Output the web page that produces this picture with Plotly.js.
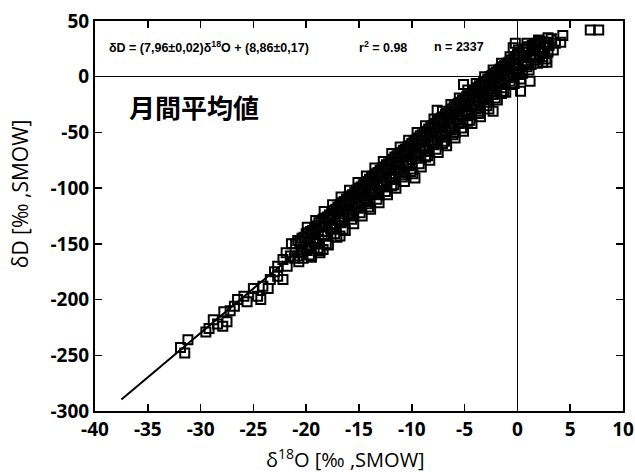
<!DOCTYPE html>
<html>
<head>
<meta charset="utf-8">
<script src="https://cdn.plot.ly/plotly-3.0.1.min.js"></script>
<style>
html,body{margin:0;padding:0;background:#fff;}
#chart{width:635px;height:472px;}
</style>
</head>
<body>
<div id="chart"></div>
<script>
// δ18O / δD monthly mean values
const tailPts = [[-31.9,-243],[-31.2,-236],[-31.5,-248],[-29.5,-229],[-29.2,-226],[-28.4,-222],[-27.9,-224],[-27.5,-220],[-27.8,-211],[-27.2,-210],[-26.5,-200],[-25.9,-197],[-25.6,-202],[-24.6,-197],[-24.3,-200],[-24.1,-188],[-23.4,-182],[-22.7,-179],[-22.2,-182],[-22.7,-170],[-22.2,-164],[-21.5,-161],[-21.8,-170],[-23.0,-175],[-25.0,-190],[-26.8,-206],[-28.8,-218],[-21.4,-150],[-21.9,-158],[-23.6,-190]];

const bandPtsA = [[-21.0,-150],[-21.1,-163],[-20.6,-148],[-20.5,-158],[-20.7,-166],[-20.2,-144],[-20.3,-155],[-19.8,-140],[-19.9,-151],[-19.7,-160],[-19.4,-138],[-19.3,-148],[-19.0,-134],[-19.1,-145],[-18.9,-154],[-18.6,-131],[-18.5,-142],[-18.2,-127],[-18.3,-139],[-18.1,-150],[-17.8,-124],[-17.7,-136],[-17.4,-120],[-17.5,-132],[-17.3,-141],[-17.0,-117],[-16.9,-129],[-16.6,-113],[-16.7,-126],[-16.5,-137],[-16.2,-110],[-16.1,-123],[-15.8,-107],[-15.9,-119],[-15.7,-128],[-15.4,-104],[-15.3,-116],[-15.0,-100],[-15.1,-113],[-14.9,-122],[-14.6,-97],[-14.5,-110],[-14.2,-94],[-14.3,-107],[-14.1,-117],[-13.8,-90],[-13.7,-103],[-13.4,-87],[-13.5,-100],[-13.3,-110],[-13.0,-84],[-12.9,-97],[-12.6,-81],[-12.7,-94],[-12.5,-103],[-12.2,-78],[-12.1,-91],[-11.8,-74],[-11.9,-87],[-11.7,-97],[-11.4,-71],[-11.3,-84],[-11.0,-68],[-11.1,-81],[-10.9,-90],[-10.6,-65],[-10.5,-78],[-10.2,-62],[-10.3,-75],[-10.1,-85],[-9.8,-58],[-9.7,-71],[-9.4,-55],[-9.5,-68],[-9.3,-78],[-9.0,-52],[-8.9,-65],[-8.6,-49],[-8.7,-62],[-8.5,-71],[-8.2,-45],[-8.1,-58],[-7.8,-42],[-7.9,-55],[-7.7,-65],[-7.4,-39],[-7.3,-52],[-7.0,-36],[-7.1,-49],[-6.9,-58],[-6.6,-33],[-6.5,-46],[-6.2,-29],[-6.3,-42],[-6.1,-52],[-5.8,-26],[-5.7,-39],[-5.4,-23],[-5.5,-36],[-5.3,-46],[-5.0,-20],[-4.9,-33],[-4.6,-17],[-4.7,-30],[-4.5,-39],[-4.2,-13],[-4.1,-26],[-3.8,-10],[-3.9,-23],[-3.7,-33],[-3.4,-7],[-3.3,-20],[-3.0,-4],[-3.1,-17],[-2.9,-26],[-2.6,0],[-2.5,-14],[-2.2,3],[-2.3,-10],[-2.1,-19],[-1.8,6],[-1.7,-7],[-1.4,9],[-1.5,-4],[-1.3,-13],[-1.0,12],[-0.9,-1],[-0.6,15],[-0.7,2],[-0.5,-7],[-0.2,18],[-0.1,5],[0.2,21],[0.1,8],[0.3,-2],[0.6,24],[0.7,11],[1.0,27],[0.9,14],[1.1,6],[1.4,28],[1.5,17],[1.8,30],[1.7,19],[1.9,12],[2.2,31],[2.3,22],[2.6,26],[2.7,16],[3.0,28],[3.4,24]];

const bandPtsB = [[-20.8,-147],[-20.8,-161],[-20.4,-145],[-20.4,-157],[-20.3,-163],[-20.0,-141],[-20.0,-154],[-19.6,-139],[-19.6,-152],[-19.5,-161],[-19.2,-136],[-19.2,-149],[-18.8,-131],[-18.8,-146],[-18.7,-158],[-18.4,-128],[-18.4,-155],[-18.0,-126],[-18.0,-139],[-17.6,-123],[-17.6,-135],[-17.2,-119],[-17.2,-133],[-16.8,-115],[-16.8,-128],[-16.8,-143],[-16.4,-112],[-16.4,-126],[-16.0,-108],[-16.0,-122],[-15.6,-106],[-15.6,-119],[-15.5,-125],[-15.2,-102],[-15.2,-116],[-14.8,-99],[-14.8,-112],[-14.4,-96],[-14.4,-109],[-14.3,-114],[-14.0,-92],[-14.0,-106],[-13.6,-89],[-13.6,-103],[-13.2,-86],[-13.2,-99],[-13.1,-106],[-12.8,-82],[-12.8,-96],[-12.4,-79],[-12.4,-93],[-12.0,-76],[-12.0,-90],[-11.9,-98],[-11.6,-72],[-11.6,-87],[-11.2,-69],[-11.2,-84],[-10.8,-66],[-10.8,-80],[-10.7,-88],[-10.4,-63],[-10.4,-77],[-10.0,-60],[-10.0,-74],[-9.6,-57],[-9.6,-70],[-9.7,-91],[-9.2,-53],[-9.2,-67],[-8.8,-50],[-8.8,-64],[-8.7,-72],[-8.4,-47],[-8.4,-61],[-8.0,-44],[-8.0,-58],[-7.6,-40],[-7.6,-30],[-7.6,-55],[-7.2,-37],[-7.2,-51],[-7.1,-60],[-6.8,-34],[-6.8,-48],[-6.4,-31],[-6.4,-45],[-6.0,-27],[-6.0,-42],[-5.9,-50],[-5.6,-24],[-5.6,-38],[-5.2,-21],[-5.1,-7],[-5.2,-35],[-4.8,-18],[-4.8,-32],[-4.7,-40],[-4.4,-15],[-4.4,-29],[-4.0,-12],[-4.0,-26],[-3.6,-8],[-3.6,-22],[-3.5,-31],[-3.2,-5],[-3.2,-19],[-2.8,-2],[-2.8,-16],[-2.4,1],[-2.4,-13],[-2.3,-31],[-2.0,4],[-2.0,-10],[-1.6,7],[-1.6,-6],[-1.5,-15],[-1.2,10],[-1.2,-3],[-0.8,13],[-0.8,0],[-0.4,16],[-0.4,3],[-0.4,26],[0.0,20],[0.0,7],[-0.2,30],[0.3,-13],[0.8,25],[0.8,12],[1.2,-4],[1.2,18],[1.6,29],[1.6,20],[2.0,25],[2.0,33],[2.4,18],[2.4,13],[2.8,31],[2.8,13]];

const bandPtsC = [[-19.9,-135],[-19.9,-156],[-19.5,-141],[-19.5,-162],[-19.1,-129],[-19.1,-150],[-18.7,-134],[-18.7,-156],[-18.3,-121],[-18.3,-143],[-17.9,-128],[-17.9,-151],[-17.5,-115],[-17.5,-137],[-17.1,-121],[-17.1,-144],[-16.7,-108],[-16.7,-131],[-16.3,-115],[-16.3,-138],[-15.9,-102],[-15.9,-124],[-15.5,-108],[-15.5,-132],[-15.1,-95],[-15.1,-118],[-14.7,-102],[-14.7,-125],[-14.3,-89],[-14.3,-112],[-13.9,-96],[-13.9,-119],[-13.5,-82],[-13.5,-105],[-13.1,-89],[-13.1,-113],[-12.7,-76],[-12.7,-99],[-12.3,-83],[-12.3,-106],[-11.9,-69],[-11.9,-92],[-11.5,-76],[-11.5,-100],[-11.1,-63],[-11.1,-86],[-10.7,-70],[-10.7,-94],[-10.3,-57],[-10.3,-80],[-9.9,-64],[-9.9,-87],[-9.5,-50],[-9.5,-73],[-9.1,-57],[-9.1,-81],[-8.7,-44],[-8.7,-67],[-8.3,-51],[-8.3,-75],[-7.9,-38],[-7.9,-61],[-7.5,-45],[-7.5,-68],[-7.1,-31],[-7.1,-54],[-6.7,-38],[-6.7,-62],[-6.3,-25],[-6.3,-48],[-5.9,-32],[-5.9,-55],[-5.5,-19],[-5.5,-42],[-5.1,-26],[-5.1,-49],[-4.7,-12],[-4.7,-35],[-4.3,-19],[-4.3,-42],[-3.9,-6],[-3.9,-29],[-3.5,-13],[-3.5,-36],[-3.1,0],[-3.1,-23],[-2.7,-7],[-2.7,-29],[-2.3,6],[-2.3,-16],[-1.9,0],[-1.9,-21],[-1.5,12],[-1.5,-10],[-1.1,6],[-1.1,-14],[-0.7,18],[-0.7,-4],[-0.3,12],[-0.3,-6],[0.1,24],[0.1,2],[0.5,19],[0.5,3],[0.9,30],[0.9,9],[1.3,25],[1.3,11],[1.7,28],[1.7,15],[2.1,32],[2.1,18],[2.5,31],[2.5,21],[2.9,22],[2.9,35]];

const topPts = [[4.1,31],[4.3,37],[3.6,30],[3.2,34],[6.9,42],[7.7,42]];

// regression line δD = 7.96 δ18O + 8.86
const fitLineX = [-37.5, 3.7];
const fitLineY = [-289.6, 38.3];

const xTicks = [-40,-35,-30,-25,-20,-15,-10,-5,0,5,10];
const yTicks = [-300,-250,-200,-150,-100,-50,0,50];

const allPts = tailPts.concat(bandPtsA, bandPtsB, bandPtsC, topPts);

const markerStyle = {symbol:'square-open', size:9, color:'#000', line:{width:2, color:'#000'}};

const traces = [
  {x: fitLineX, y: fitLineY, mode:'lines', line:{color:'#000', width:2}, hoverinfo:'skip', showlegend:false},
  {x: allPts.map(p=>p[0]), y: allPts.map(p=>p[1]), mode:'markers', marker: markerStyle, showlegend:false}
];

const tickFont = {family:'Open Sans, Liberation Sans, sans-serif', size:19, color:'#000', weight:700};
const axisCommon = {
  showgrid:false, showline:true, linecolor:'#000', linewidth:2, mirror:'ticks',
  ticks:'inside', ticklen:7, tickwidth:1.5, tickcolor:'#000',
  zeroline:true, zerolinecolor:'#000', zerolinewidth:1.5,
  tickfont: tickFont
};

const smallFont = {family:'Liberation Sans Narrow, Liberation Sans, sans-serif', size:12.5, color:'#000', weight:700};

const layout = {
  width:635, height:472,
  margin:{l:95, r:12, t:21, b:61},
  paper_bgcolor:'#fff', plot_bgcolor:'#fff',
  xaxis: Object.assign({}, axisCommon, {range:[-40,10], tickvals:xTicks, ticktext:xTicks.map(String)}),
  yaxis: Object.assign({}, axisCommon, {range:[-300,50], tickvals:yTicks, ticktext:yTicks.map(String)}),
  annotations: [
    {xref:'paper', yref:'paper', x:0.023, y:0.933, xanchor:'left', yanchor:'middle', showarrow:false,
     text:'δD = (7,96±0,02)δ<sup>18</sup>O + (8,86±0,17)', font:smallFont},
    {xref:'paper', yref:'paper', x:0.497, y:0.933, xanchor:'left', yanchor:'middle', showarrow:false,
     text:'r<sup>2</sup> = 0.98', font:smallFont},
    {xref:'paper', yref:'paper', x:0.638, y:0.933, xanchor:'left', yanchor:'middle', showarrow:false,
     text:'n = 2337', font:smallFont},
    {xref:'paper', yref:'paper', x:0.060, y:0.78, xanchor:'left', yanchor:'middle', showarrow:false,
     text:'月間平均値', font:{family:'Noto Sans CJK JP, sans-serif', size:26, color:'#000', weight:700}},
    {xref:'paper', yref:'paper', x:0.4735, y:-0.122, xanchor:'center', yanchor:'middle', showarrow:false,
     text:'δ<sup>18</sup>O [‰ ,SMOW]', font:{family:'Open Sans, Liberation Sans, sans-serif', size:20, color:'#000'}},
    {xref:'paper', yref:'paper', x:-0.142, y:0.556, xanchor:'center', yanchor:'middle', showarrow:false, textangle:-90,
     text:'δD [‰ ,SMOW]', font:{family:'Open Sans, Liberation Sans, sans-serif', size:21, color:'#000'}}
  ]
};

Plotly.newPlot('chart', traces, layout, {displayModeBar:false, staticPlot:true});
</script>
</body>
</html>
